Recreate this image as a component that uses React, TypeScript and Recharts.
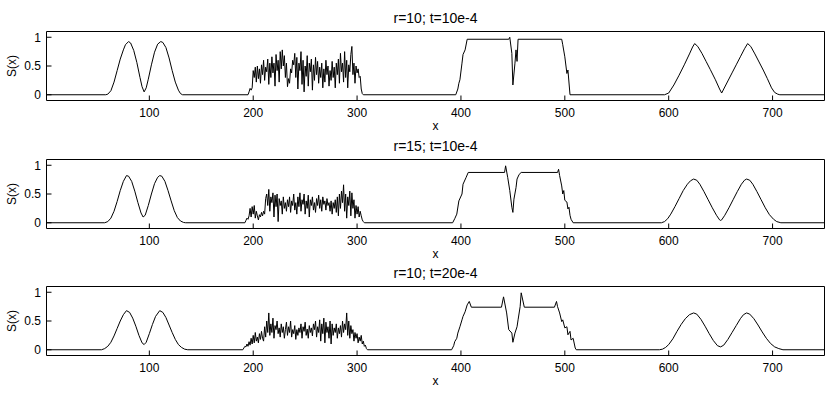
import { LineChart, Line, XAxis, YAxis } from "recharts";

// x ticks and y ticks shared by all three panels
const xTicks = [100, 200, 300, 400, 500, 600, 700];
const yTicks = [0, 0.5, 1];
const titles = ["r=10; t=10e-4", "r=15; t=10e-4", "r=10; t=20e-4"];

// ---- panel 1: r=10; t=10e-4 ----
const topSmooth: [number, number][] = [
  [1, 0], [58, 0], [60, 0.01], [63, 0.07], [66, 0.22], [69, 0.42], [72, 0.62], [75, 0.78], [77, 0.87],
  [80, 0.925], [82, 0.9], [85, 0.77], [88, 0.56], [91, 0.3], [93, 0.14], [95, 0.05], [97, 0.12],
  [99, 0.27], [102, 0.52], [105, 0.74], [108, 0.88], [111, 0.925], [113, 0.91], [116, 0.82],
  [119, 0.64], [122, 0.42], [125, 0.22], [128, 0.08], [130, 0.02], [132, 0],
  [395, 0], [397, 0.1], [398, 0.2], [399, 0.26], [401, 0.55], [402, 0.7], [404, 0.78], [406, 0.965],
  [446, 0.965], [447, 1.0], [449, 0.72], [450, 0.17], [452, 0.55], [453, 0.78], [454, 0.58], [455, 0.965],
  [497, 0.965], [498, 0.87], [500, 0.66], [502, 0.37], [503, 0.43], [505, 0],
  [596, 0], [600, 0.03], [605, 0.17], [610, 0.34], [615, 0.52], [620, 0.71], [623, 0.83], [625, 0.89],
  [628, 0.84], [632, 0.72], [636, 0.58], [640, 0.44], [645, 0.26], [649, 0.1], [651, 0.03], [653, 0.1],
  [657, 0.24], [661, 0.38], [665, 0.52], [669, 0.66], [673, 0.8], [676, 0.89], [679, 0.84], [683, 0.71],
  [687, 0.57], [691, 0.43], [695, 0.28], [699, 0.12], [702, 0.04], [705, 0.01], [707, 0], [750, 0],
];
const topNoiseStart = 195;
const topNoise = [
  0, 0.05, 0.11, 0.08, 0.12, 0.42, 0.3, 0.48, 0.22, 0.5, 0.28, 0.45, 0.2, 0.52, 0.35, 0.6, 0.25, 0.48,
  0.4, 0.62, 0.18, 0.55, 0.3, 0.66, 0.38, 0.55, 0.15, 0.7, 0.42, 0.6, 0.22, 0.75, 0.45, 0.78, 0.5, 0.68,
  0.3, 0.55, 0.14, 0.28, 0.2, 0.45, 0.38, 0.6, 0.52, 0.72, 0.3, 0.65, 0.1, 0.55, 0.42, 0.75, 0.18, 0.6,
  0.05, 0.5, 0.32, 0.68, 0.15, 0.55, 0.4, 0.62, 0.08, 0.52, 0.25, 0.65, 0.35, 0.58, 0.2, 0.48, 0.3, 0.55,
  0.12, 0.45, 0.22, 0.6, 0.35, 0.5, 0.15, 0.42, 0.25, 0.58, 0.3, 0.48, 0.12, 0.55, 0.35, 0.62, 0.2, 0.72,
  0.4, 0.55, 0.22, 0.75, 0.3, 0.6, 0.12, 0.52, 0.4, 0.7, 0.84, 0.35, 0.55, 0.2, 0.5, 0.38, 0.45, 0.3,
  0.32, 0.1, 0.02, 0,
];

// ---- panel 2: r=15; t=10e-4 ----
const midSmooth: [number, number][] = [
  [1, 0], [57, 0], [60, 0.02], [63, 0.08], [66, 0.2], [69, 0.37], [72, 0.56], [75, 0.72], [78, 0.82],
  [80, 0.81], [83, 0.72], [86, 0.55], [89, 0.35], [92, 0.17], [94, 0.1], [96, 0.13], [99, 0.3],
  [102, 0.5], [105, 0.68], [108, 0.79], [110, 0.82], [112, 0.81], [115, 0.72], [118, 0.56], [121, 0.38],
  [124, 0.21], [127, 0.09], [130, 0.03], [133, 0.005], [135, 0],
  [392, 0], [394, 0.07], [396, 0.15], [398, 0.38], [401, 0.5], [402, 0.67], [405, 0.79], [407, 0.875],
  [442, 0.875], [443, 0.99], [445, 0.79], [447, 0.56], [449, 0.27], [450, 0.18], [451, 0.41], [453, 0.61],
  [454, 0.76], [456, 0.84], [458, 0.875],
  [493, 0.875], [494, 0.93], [495, 0.82], [497, 0.64], [498, 0.5], [499, 0.56], [500, 0.39], [502, 0.36],
  [503, 0.24], [504, 0.27], [505, 0.13], [506, 0.06], [508, 0],
  [593, 0], [596, 0.02], [599, 0.07], [602, 0.15], [606, 0.28], [610, 0.42], [614, 0.56], [618, 0.67],
  [621, 0.73], [624, 0.76], [627, 0.74], [630, 0.67], [634, 0.54], [638, 0.4], [642, 0.26], [646, 0.13],
  [649, 0.05], [650, 0.04], [651, 0.05], [654, 0.13], [658, 0.26], [662, 0.4], [666, 0.54], [670, 0.67],
  [673, 0.74], [675, 0.76], [678, 0.74], [681, 0.67], [685, 0.54], [689, 0.4], [693, 0.26], [697, 0.14],
  [701, 0.06], [704, 0.02], [708, 0], [750, 0],
];
const midNoiseStart = 192;
const midNoise = [
  0, 0.04, 0.08, 0.06, 0.12, 0.25, 0.1, 0.28, 0.15, 0.3, 0.08, 0.2, 0.12, 0.05, 0.14, 0.1, 0.18, 0.12,
  0.2, 0.15, 0.42, 0.5, 0.3, 0.58, 0.2, 0.45, 0.35, 0.52, 0.1, 0.48, 0.28, 0.5, 0.02, 0.42, 0.3, 0.38,
  0.15, 0.45, 0.25, 0.35, 0.2, 0.4, 0.28, 0.45, 0.18, 0.38, 0.3, 0.5, 0.22, 0.35, 0.15, 0.45, 0.28, 0.52,
  0.2, 0.4, 0.32, 0.5, 0.15, 0.38, 0.25, 0.48, 0.1, 0.4, 0.3, 0.45, 0.22, 0.35, 0.18, 0.42, 0.3, 0.48,
  0.25, 0.4, 0.2, 0.45, 0.32, 0.38, 0.22, 0.42, 0.3, 0.35, 0.2, 0.38, 0.15, 0.35, 0.25, 0.4, 0.18, 0.45,
  0.12, 0.5, 0.25, 0.55, 0.35, 0.66, 0.2, 0.5, 0.08, 0.45, 0.3, 0.55, 0.12, 0.52, 0.25, 0.4, 0.08, 0.3,
  0.15, 0.28, 0.1, 0.2, 0.12, 0.05, 0.02, 0,
];

// ---- panel 3: r=10; t=20e-4 ----
const botSmooth: [number, number][] = [
  [1, 0], [54, 0], [57, 0.02], [60, 0.06], [63, 0.13], [66, 0.24], [69, 0.37], [72, 0.5], [75, 0.61],
  [78, 0.68], [81, 0.65], [84, 0.55], [87, 0.41], [90, 0.25], [93, 0.12], [95, 0.09], [97, 0.13],
  [100, 0.28], [103, 0.44], [106, 0.58], [110, 0.68], [113, 0.65], [116, 0.56], [119, 0.43], [122, 0.3],
  [125, 0.18], [128, 0.09], [131, 0.04], [134, 0.01], [137, 0],
  [391, 0], [393, 0.07], [394, 0.14], [396, 0.2], [397, 0.29], [399, 0.4], [401, 0.52], [402, 0.58],
  [404, 0.66], [406, 0.78], [408, 0.84], [410, 0.74], [439, 0.74], [441, 0.92], [444, 0.64], [446, 0.35],
  [449, 0.29], [450, 0.13], [452, 0.29], [454, 0.4], [455, 0.52], [457, 0.75], [458, 0.99], [461, 0.74],
  [490, 0.74], [492, 0.84], [493, 0.75], [495, 0.64], [497, 0.49], [498, 0.52], [500, 0.38], [502, 0.4],
  [503, 0.26], [505, 0.32], [506, 0.17], [508, 0.2], [510, 0.03], [511, 0],
  [591, 0], [594, 0.01], [597, 0.04], [600, 0.09], [604, 0.19], [608, 0.32], [612, 0.44], [616, 0.54],
  [620, 0.61], [624, 0.64], [627, 0.62], [631, 0.53], [635, 0.41], [639, 0.28], [643, 0.16], [647, 0.07],
  [650, 0.05], [653, 0.08], [657, 0.18], [661, 0.3], [665, 0.42], [669, 0.54], [672, 0.61], [675, 0.64],
  [678, 0.62], [682, 0.54], [686, 0.43], [690, 0.31], [694, 0.2], [698, 0.11], [702, 0.05], [706, 0.02],
  [710, 0], [750, 0],
];
const botNoiseStart = 190;
const botNoise = [
  0, 0.03, 0.06, 0.05, 0.1, 0.06, 0.14, 0.08, 0.2, 0.1, 0.25, 0.12, 0.3, 0.15, 0.22, 0.12, 0.28, 0.18,
  0.32, 0.2, 0.15, 0.4, 0.22, 0.5, 0.3, 0.64, 0.25, 0.45, 0.3, 0.55, 0.2, 0.42, 0.35, 0.5, 0.28, 0.38,
  0.22, 0.45, 0.3, 0.4, 0.2, 0.35, 0.48, 0.25, 0.4, 0.3, 0.5, 0.22, 0.35, 0.28, 0.42, 0.18, 0.35, 0.25,
  0.38, 0.3, 0.45, 0.2, 0.4, 0.32, 0.48, 0.25, 0.36, 0.2, 0.42, 0.3, 0.38, 0.24, 0.45, 0.35, 0.5, 0.22,
  0.4, 0.3, 0.52, 0.15, 0.45, 0.28, 0.55, 0.12, 0.48, 0.3, 0.4, 0.2, 0.5, 0.1, 0.45, 0.25, 0.38, 0.3,
  0.45, 0.2, 0.38, 0.28, 0.42, 0.22, 0.5, 0.3, 0.45, 0.35, 0.64, 0.25, 0.5, 0.2, 0.42, 0.28, 0.35, 0.15,
  0.3, 0.2, 0.28, 0.12, 0.22, 0.15, 0.25, 0.1, 0.15, 0.06, 0.08, 0.02, 0,
];

type Pt = { x: number; s: number };

const buildSeries = (smooth: [number, number][], start: number, noise: number[]): Pt[] => {
  const pts: Pt[] = smooth.map(([x, s]) => ({ x, s }));
  noise.forEach((s, i) => pts.push({ x: start + i, s }));
  return pts.sort((a, b) => a.x - b.x);
};

const panels = [
  buildSeries(topSmooth, topNoiseStart, topNoise),
  buildSeries(midSmooth, midNoiseStart, midNoise),
  buildSeries(botSmooth, botNoiseStart, botNoise),
];

const axisFont = { fontSize: 12, fill: "#000" };

const YLabel = (props: any) => {
  const vb = props.viewBox || { x: 0, y: 31.5, width: 46.5, height: 69 };
  const cx = vb.x + 12;
  const cy = vb.y + vb.height / 2;
  return (
    <text
      x={cx}
      y={cy}
      transform={`rotate(-90 ${cx} ${cy})`}
      textAnchor="middle"
      dominantBaseline="central"
      fontSize={12}
      fill="#000"
    >
      S(x)
    </text>
  );
};

const Title = (props: any) => {
  const vb = props.viewBox || { x: 46.5, y: 30.5, width: 778, height: 1 };
  return (
    <text x={vb.x + vb.width / 2} y={vb.y - 8} textAnchor="middle" fontSize={14} fill="#000">
      {props.text}
    </text>
  );
};

const Panel = ({ data, title, top }: { data: Pt[]; title: string; top: number }) => (
  <div style={{ position: "absolute", left: 0, top, width: 830, height: 140 }}>
    <LineChart width={830} height={140} data={data} margin={{ top: 30.5, right: 4.5, bottom: 0, left: 0 }}>
      <XAxis
        xAxisId="b"
        dataKey="x"
        type="number"
        domain={[1, 750]}
        allowDataOverflow
        ticks={xTicks}
        height={39.5}
        stroke="#000"
        tickSize={-5}
        tickMargin={13}
        tick={axisFont}
        label={{ value: "x", position: "insideBottom", offset: 10, fontSize: 12, fill: "#000" }}
      />
      <XAxis
        xAxisId="t"
        orientation="top"
        dataKey="x"
        type="number"
        domain={[1, 750]}
        allowDataOverflow
        ticks={xTicks}
        height={1}
        stroke="#000"
        tickSize={-5}
        tick={false}
        label={<Title text={title} />}
      />
      <YAxis
        yAxisId="l"
        type="number"
        domain={[-0.1, 1.1]}
        allowDataOverflow
        ticks={yTicks}
        width={46.5}
        stroke="#000"
        tickSize={-5}
        tickMargin={10.5}
        tick={axisFont}
        label={<YLabel />}
      />
      <YAxis
        yAxisId="r"
        orientation="right"
        type="number"
        domain={[-0.1, 1.1]}
        allowDataOverflow
        ticks={yTicks}
        width={1}
        stroke="#000"
        tickSize={-5}
        tick={false}
      />
      <Line
        xAxisId="b"
        yAxisId="l"
        type="linear"
        dataKey="s"
        stroke="#000"
        strokeWidth={1}
        dot={false}
        activeDot={false}
        isAnimationActive={false}
      />
    </LineChart>
  </div>
);

export default function App() {
  return (
    <div
      style={{
        position: "absolute",
        left: 0,
        top: 0,
        width: 830,
        height: 395,
        background: "#fff",
        fontFamily: "'Liberation Sans', Arial, Helvetica, sans-serif",
      }}
    >
      {panels.map((data, i) => (
        <Panel key={i} data={data} title={titles[i]} top={i * 127.5} />
      ))}
    </div>
  );
}
